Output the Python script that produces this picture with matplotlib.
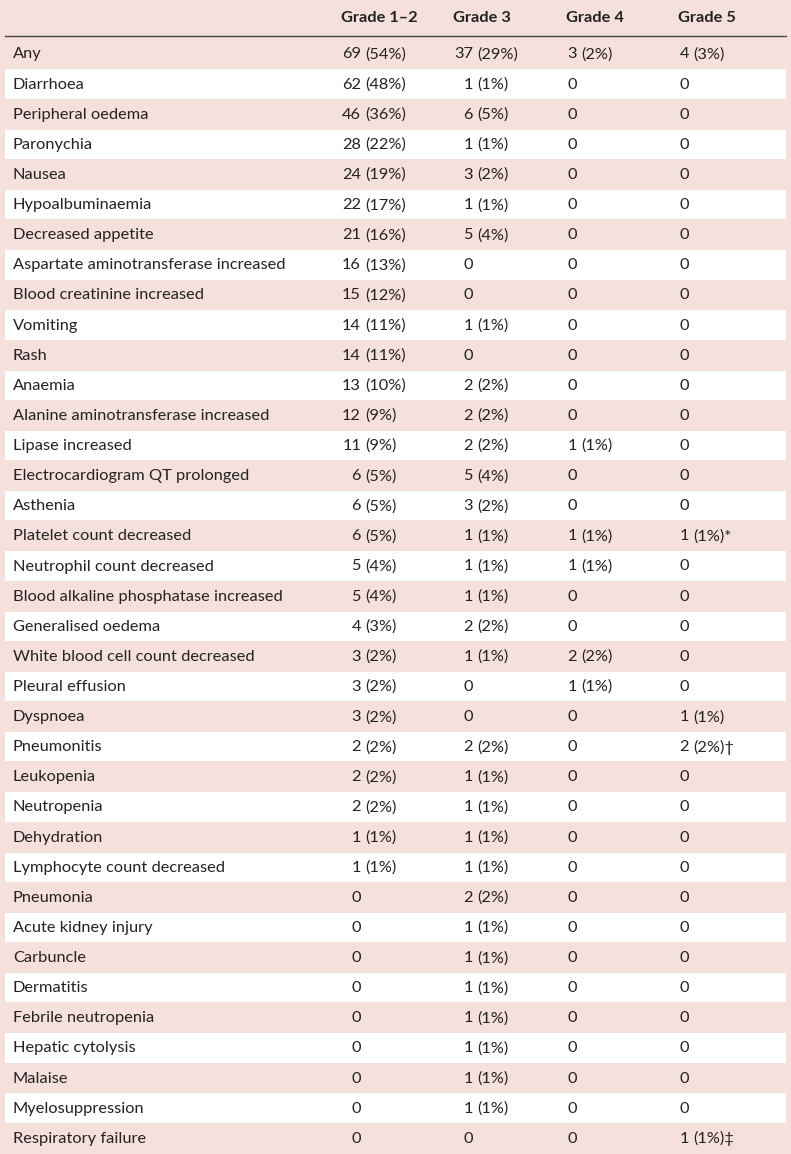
import matplotlib
matplotlib.use("Agg")
import matplotlib.pyplot as plt

# ---------------- data ----------------
events = [
    "Any", "Diarrhoea", "Peripheral oedema", "Paronychia", "Nausea",
    "Hypoalbuminaemia", "Decreased appetite", "Aspartate aminotransferase increased",
    "Blood creatinine increased", "Vomiting", "Rash", "Anaemia",
    "Alanine aminotransferase increased", "Lipase increased",
    "Electrocardiogram QT prolonged", "Asthenia", "Platelet count decreased",
    "Neutrophil count decreased", "Blood alkaline phosphatase increased",
    "Generalised oedema", "White blood cell count decreased", "Pleural effusion",
    "Dyspnoea", "Pneumonitis", "Leukopenia", "Neutropenia", "Dehydration",
    "Lymphocyte count decreased", "Pneumonia", "Acute kidney injury", "Carbuncle",
    "Dermatitis", "Febrile neutropenia", "Hepatic cytolysis", "Malaise",
    "Myelosuppression", "Respiratory failure",
]
grades = ["Grade 1\u20132", "Grade 3", "Grade 4", "Grade 5"]

g12_n = [69, 62, 46, 28, 24, 22, 21, 16, 15, 14, 14, 13, 12, 11, 6, 6, 6, 5, 5, 4, 3, 3, 3, 2, 2, 2, 1, 1, 0, 0, 0, 0, 0, 0, 0, 0, 0]
g12_p = [54, 48, 36, 22, 19, 17, 16, 13, 12, 11, 11, 10, 9, 9, 5, 5, 5, 4, 4, 3, 2, 2, 2, 2, 2, 2, 1, 1, 0, 0, 0, 0, 0, 0, 0, 0, 0]
g3_n = [37, 1, 6, 1, 3, 1, 5, 0, 0, 1, 0, 2, 2, 2, 5, 3, 1, 1, 1, 2, 1, 0, 0, 2, 1, 1, 1, 1, 2, 1, 1, 1, 1, 1, 1, 1, 0]
g3_p = [29, 1, 5, 1, 2, 1, 4, 0, 0, 1, 0, 2, 2, 2, 4, 2, 1, 1, 1, 2, 1, 0, 0, 2, 1, 1, 1, 1, 2, 1, 1, 1, 1, 1, 1, 1, 0]
g4_n = [3, 0, 0, 0, 0, 0, 0, 0, 0, 0, 0, 0, 0, 1, 0, 0, 1, 1, 0, 0, 2, 1, 0, 0, 0, 0, 0, 0, 0, 0, 0, 0, 0, 0, 0, 0, 0]
g4_p = [2, 0, 0, 0, 0, 0, 0, 0, 0, 0, 0, 0, 0, 1, 0, 0, 1, 1, 0, 0, 2, 1, 0, 0, 0, 0, 0, 0, 0, 0, 0, 0, 0, 0, 0, 0, 0]
g5_n = [4, 0, 0, 0, 0, 0, 0, 0, 0, 0, 0, 0, 0, 0, 0, 0, 1, 0, 0, 0, 0, 0, 1, 2, 0, 0, 0, 0, 0, 0, 0, 0, 0, 0, 0, 0, 1]
g5_p = [3, 0, 0, 0, 0, 0, 0, 0, 0, 0, 0, 0, 0, 0, 0, 0, 1, 0, 0, 0, 0, 0, 1, 2, 0, 0, 0, 0, 0, 0, 0, 0, 0, 0, 0, 0, 1]
g5_notes = {16: "*", 23: "\u2020", 36: "\u2021"}

# ---------------- layout ----------------
W, H = 791, 1154
PINK = "#f6e0dc"
TXT = "#232323"
FONT = "Lato"
FS = 11.8

fig = plt.figure(figsize=(W / 100, H / 100), dpi=100, facecolor=PINK)
ax = fig.add_axes([0, 0, 1, 1])
ax.set_xlim(0, W)
ax.set_ylim(H, 0)
ax.axis("off")
ax.set_facecolor(PINK)

top0 = 38.9
pitch = 30.12
n = len(events)
centers = [top0 + pitch * (k + 0.5) for k in range(n)]

# white stripes on odd rows
white_rows = [centers[k] for k in range(n) if k % 2 == 1]
ax.barh(white_rows, width=781, left=5, height=29.4, color="white", zorder=1)

# header line
ax.plot([5, 786], [36, 36], color="#444444", lw=1.0, zorder=2)

# header
hdr_x = [341, 453, 566, 678]
for x, g in zip(hdr_x, grades):
    ax.text(x, 18.5, g, ha="left", va="center", fontsize=FS, fontweight="bold",
            family=FONT, color=TXT, zorder=3)

digit_end = [361, 473, 577, 689]
cols = [(g12_n, g12_p), (g3_n, g3_p), (g4_n, g4_p), (g5_n, g5_p)]

for k in range(n):
    y = centers[k] + 0.5
    ax.text(13, y, events[k], ha="left", va="center", fontsize=FS,
            family=FONT, color=TXT, zorder=3)
    for ci, (nn, pp) in enumerate(cols):
        xe = digit_end[ci]
        ax.text(xe, y, str(nn[k]), ha="right", va="center", fontsize=FS,
                family=FONT, color=TXT, zorder=3)
        if nn[k] > 0:
            s = "(%d%%)" % pp[k]
            if ci == 3 and k in g5_notes:
                s += g5_notes[k]
            ax.text(xe + 4, y, s, ha="left", va="center", fontsize=FS,
                    family=[FONT, "DejaVu Sans"], color=TXT, zorder=3)

fig.savefig("out.png", dpi=100, facecolor=PINK)
